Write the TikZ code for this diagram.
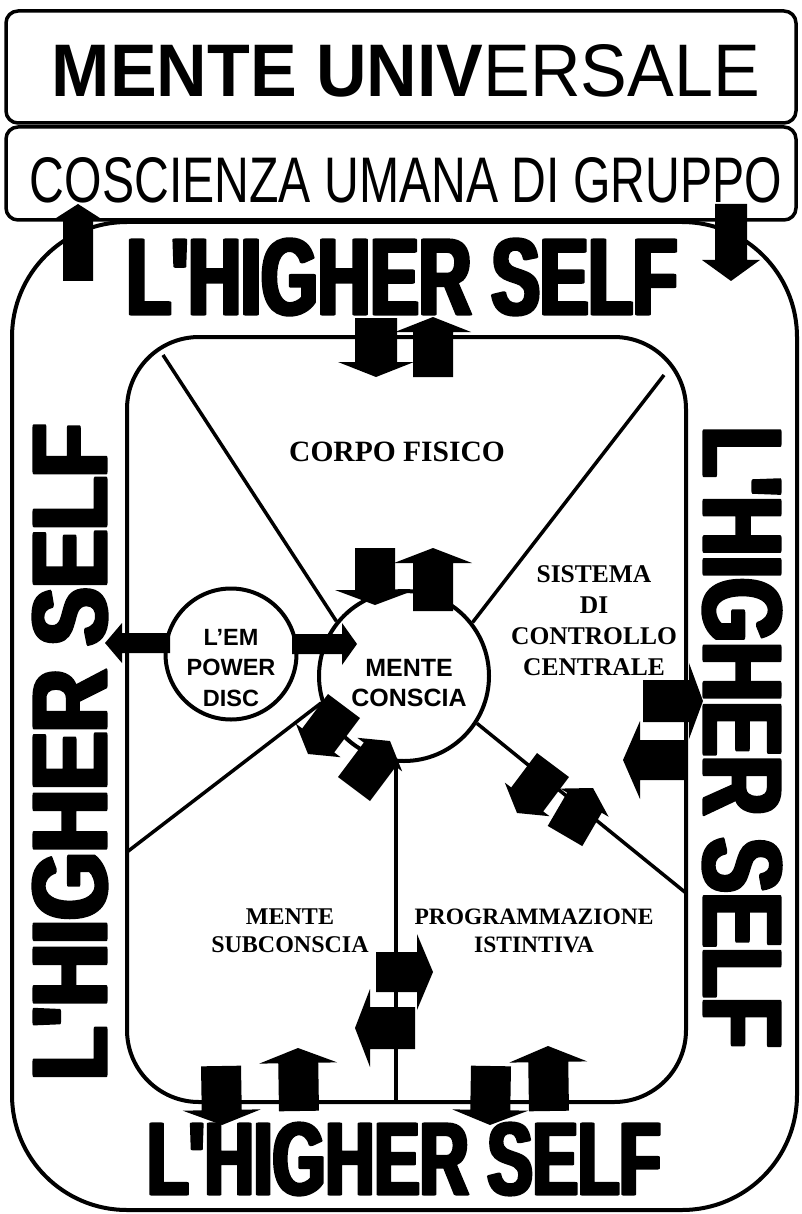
\documentclass[tikz,border=0pt]{standalone}
\usepackage{fontspec}
\usepackage{graphicx}
\usetikzlibrary{calc}
\newfontfamily\arialf{Liberation Sans}
\newfontfamily\timesf{Liberation Serif}
\newfontfamily\heavyf[BoldFeatures={FakeStretch=0.3}]{Liberation Sans}
\newcommand{\hstext}[2]{\special{pdf:literal direct 2 Tr 0 G 0 g 0.21 w 1 j}\resizebox{#1}{#2}{\heavyf\bfseries L'HIGHER SELF}\special{pdf:literal direct 0 Tr}}
\newcommand{\barrow}[5]{%
  \path #1 coordinate (bAt) #2 coordinate (bAh);
  \coordinate (bAb) at ($(bAh)!#5pt!(bAt)$);
  \fill[black] ($(bAt)!#3pt!90:(bAh)$) -- ($(bAb)!#3pt!-90:(bAt)$)
    -- ($(bAb)!#4pt!-90:(bAt)$) -- (bAh) -- ($(bAb)!#4pt!90:(bAt)$)
    -- ($(bAb)!#3pt!90:(bAt)$) -- ($(bAt)!#3pt!-90:(bAh)$) -- cycle;
}
\begin{document}
\begin{tikzpicture}[x=1pt,y=-1pt,line join=round]
\tikzset{
  frame/.style={draw=black, line width=3.5pt},
  spoke/.style={draw=black, line width=3.5pt},
  ring/.style={circle, draw=black, line width=4pt, fill=white, inner sep=0pt},
  title/.style={inner sep=0pt, anchor=center, text=black},
  serifl/.style={inner sep=0pt, align=center},
  sansl/.style={inner sep=0pt, align=center},
}
\useasboundingbox (0,0) rectangle (801,1214);
% header boxes
\draw[frame, rounded corners=12pt] (6,11) rectangle (796,123);
\draw[frame, rounded corners=12pt] (6,127) rectangle (796,220);
% outer and inner rounded frames
\draw[frame, line width=4pt, rounded corners=115pt] (12,222) rectangle (797,1210);
\draw[frame, line width=4pt, rounded corners=72pt] (127,337) rectangle (686,1102);
% circles
\node[ring, minimum size=170pt] (mc) at (404,676) {};
\node[ring, minimum size=131pt] (em) at (231,654) {};
% spoke ends
\coordinate (ul) at (163,355);
\coordinate (ur) at (664,375);
\coordinate (ll) at (127,852);
\coordinate (lr) at (686,893);
\coordinate (vb) at (396,1102);
\draw[spoke] (ul) -- (mc.141.7);
\draw[spoke] (ur) -- (mc.38);
\draw[spoke] (ll) -- (mc.198);
\draw[spoke] (lr) -- (mc.327);
\draw[spoke] (mc.south -| vb) -- (vb);
% titles
\node[title] (t1) at (406,71) {\resizebox{708pt}{52pt}{\arialf{\bfseries MENTE UNIV}ERSALE}};
\node[title] (t2) at (406,180) {\resizebox{752pt}{45pt}{\arialf COSCIENZA UMANA DI GRUPPO}};
\node[title] (hs1) at (402,277) {\hstext{550pt}{76pt}};
\node[title] (hs2) at (404,1159) {\hstext{513pt}{72pt}};
\node[title, rotate=90] (hs3) at (70,752) {\hstext{655pt}{74pt}};
\node[title, rotate=-90] (hs4) at (742,737) {\hstext{620pt}{78pt}};
% labels
\node[serifl, font={\timesf\bfseries\fontsize{29.5pt}{34pt}\selectfont}] (cf) at (397,452) {CORPO FISICO};
\node[serifl, font={\timesf\bfseries\fontsize{25.5pt}{31pt}\selectfont}] (scc) at (594,621) {SISTEMA\\DI\\CONTROLLO\\CENTRALE};
\node[serifl, font={\timesf\bfseries\fontsize{24pt}{28pt}\selectfont}] (ms) at (290,931) {MENTE\\SUBCONSCIA};
\node[serifl, font={\timesf\bfseries\fontsize{23.5pt}{28pt}\selectfont}] (pi) at (534,931) {PROGRAMMAZIONE\\ISTINTIVA};
\node[sansl, font={\arialf\bfseries\fontsize{23.5pt}{30.5pt}\selectfont}] (emt) at (231,668) {L’EM\\POWER\\DISC};
\node[sansl, font={\arialf\bfseries\fontsize{25pt}{30pt}\selectfont}] (mct) at (409,683) {MENTE\\CONSCIA};
% block arrows: tail, tip, half shaft, half head, head length
\barrow{(78,281)}{(78,204)}{15}{25}{16}
\barrow{(731,204)}{(731,281)}{16}{29}{21}
\barrow{(376,318)}{(376,377)}{21}{38}{15}
\barrow{(433,377)}{(433,317)}{20}{38}{15}
\barrow{(375,548)}{(375,605)}{20}{40}{15}
\barrow{(433,611)}{(433,548)}{20}{39}{15}
\barrow{(170,643)}{(105,643)}{10}{20}{17}
\barrow{(292,644)}{(357,644)}{10}{21}{15}
\barrow{(643,701)}{(703,701)}{21}{38}{14}
\barrow{(686,760)}{(623,760)}{20}{39}{17}
\barrow{(376,972)}{(433,972)}{20}{38}{16}
\barrow{(415,1028)}{(355,1028)}{21}{39}{15}
\barrow{(221,1066)}{(222,1125)}{20}{39}{15}
\barrow{(299,1111)}{(298,1048)}{20}{39}{15}
\barrow{(491,1066)}{(490,1125)}{20}{38}{15}
\barrow{(549,1111)}{(548,1046)}{20}{39}{16}
% diagonal pairs
\barrow{(344,706)}{(308,754)}{20}{28}{17}
\barrow{(354,789)}{(390,741)}{20}{28}{17}
\barrow{(553,765)}{(517,813)}{20}{28}{17}
\barrow{(565,836)}{(593,788)}{20}{28}{17}
\end{tikzpicture}
\end{document}
